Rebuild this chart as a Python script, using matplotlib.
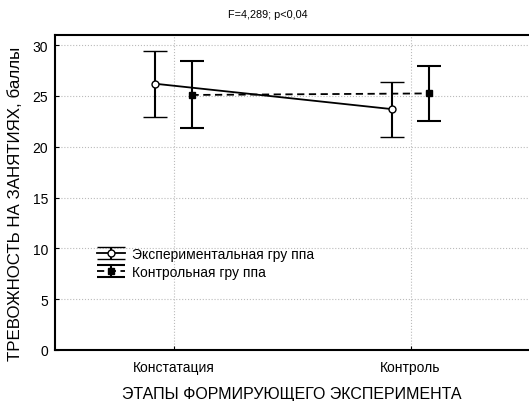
import numpy as np
import matplotlib
matplotlib.use("Agg")
import matplotlib.pyplot as plt
from matplotlib import font_manager as fm
from matplotlib.container import ErrorbarContainer
from matplotlib.legend_handler import HandlerErrorbar

# data
stages = ["Констатация", "Контроль"]
exp_mean = [26.2, 23.7]
exp_err = [3.25, 2.7]
ctrl_mean = [25.1, 25.25]
ctrl_err = [3.3, 2.7]
series_names = ["Экспериментальная гру ппа", "Контрольная гру ппа"]

# pick the regular (not narrow) Liberation Sans file
path = None
for f in fm.fontManager.ttflist:
    if f.name == "Liberation Sans" and f.style == "normal" and f.weight == 400 and "Narrow" not in f.fname:
        path = f.fname
        break
if path:
    plt.rcParams["font.family"] = [fm.FontProperties(fname=path).get_name(), "DejaVu Sans"]
else:
    plt.rcParams["font.family"] = ["Liberation Sans", "DejaVu Sans"]

fig = plt.figure(figsize=(5.29, 4.02), dpi=100)
ax = fig.add_axes([55 / 529, 51 / 402, 474 / 529, 315 / 402])

x = np.arange(1, len(stages) + 1)
off = 0.076

e1 = ax.errorbar(x - off, exp_mean, yerr=exp_err, color="black", lw=1.3,
                 marker="o", ms=5, mfc="white", mec="black", mew=1,
                 capsize=8.5, capthick=1.5, elinewidth=1.5, ls="-",
                 label=series_names[0], zorder=3)
e2 = ax.errorbar(x + off, ctrl_mean, yerr=ctrl_err, color="black", lw=1.3,
                 marker="s", ms=5, mfc="black", mec="black",
                 capsize=8.5, capthick=1.5, elinewidth=1.5, ls=(0, (4, 2.5)),
                 label=series_names[1], zorder=3)

ax.set_xlim(0.5, 2.5)
ax.set_ylim(0, 31)
ax.set_xticks(x)
ax.set_xticklabels(stages, fontsize=10)
ax.set_yticks(np.arange(0, 31, 5))
ax.tick_params(axis="y", labelsize=10, direction="in", length=3, pad=5)
ax.tick_params(axis="x", direction="in", length=3, pad=7)
ax.grid(True, color="#bbbbbb", ls=":", lw=0.8)
ax.set_axisbelow(True)

for s in ["left", "top", "bottom"]:
    ax.spines[s].set_linewidth(1.5)
ax.spines["right"].set_visible(False)

ax.set_xlabel("ЭТАПЫ ФОРМИРУЮЩЕГО ЭКСПЕРИМЕНТА", fontsize=11.5)
ax.xaxis.set_label_coords(0.5, -0.115)
ax.set_ylabel("ТРЕВОЖНОСТЬ НА ЗАНЯТИЯХ, баллы", fontsize=12.2)
ax.yaxis.set_label_coords(-0.068, 0.467)

fig.text(0.507, 0.962, "F=4,289; p<0,04", ha="center", va="center", fontsize=7.8)


def wide_caps(leg_artist, orig):
    leg_artist.update_from(orig)
    # legend caps as wide as the handle
    if hasattr(leg_artist, "get_marker") and leg_artist.get_marker() == "_":
        leg_artist.set_markersize(20)


handler = HandlerErrorbar(xerr_size=0.5, yerr_size=0.42, update_func=wide_caps)
ax.legend(handles=[e1, e2], loc="upper left", bbox_to_anchor=(97 / 529, 1 - 248 / 402),
          bbox_transform=fig.transFigure, frameon=False, fontsize=10,
          handlelength=2.0, handletextpad=0.5, labelspacing=0.28, borderpad=0,
          borderaxespad=0, handler_map={ErrorbarContainer: handler})

fig.savefig("out.png", dpi=100)
